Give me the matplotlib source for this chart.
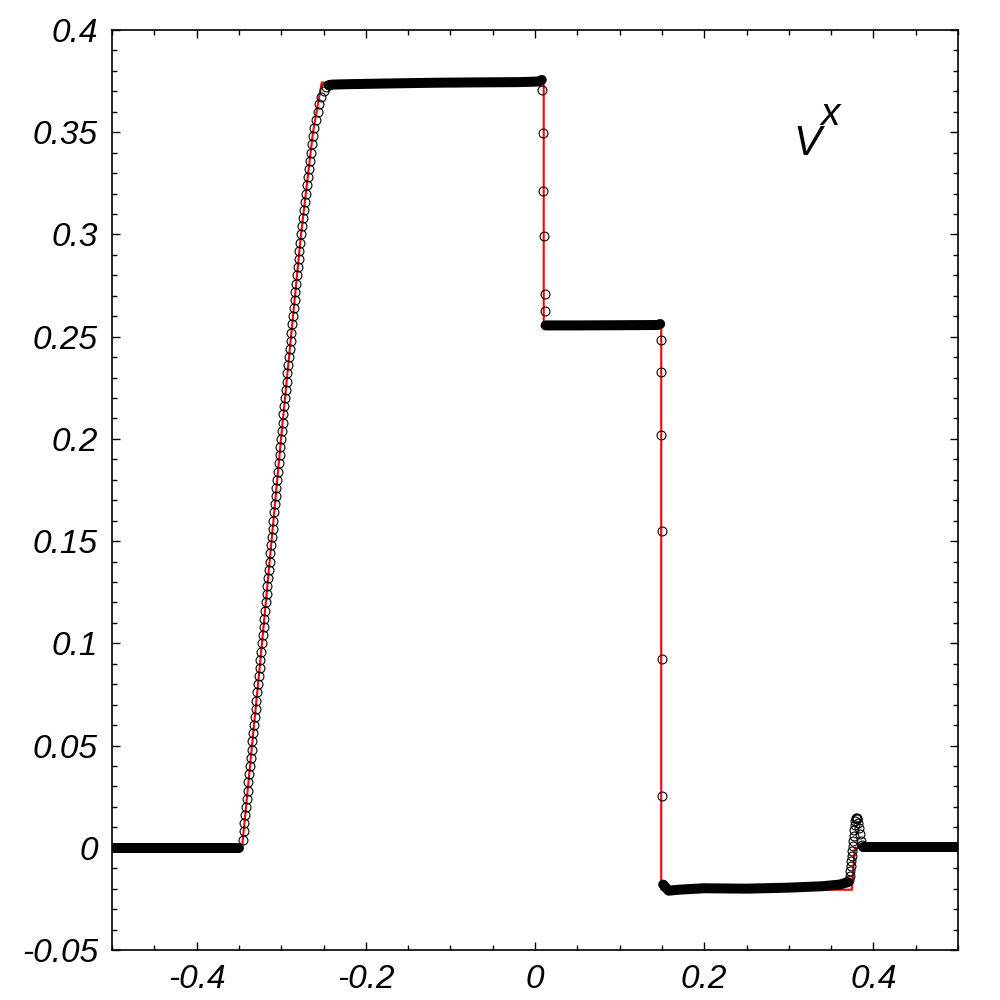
import matplotlib
matplotlib.use("Agg")
import matplotlib.pyplot as plt
from matplotlib.ticker import MultipleLocator, FuncFormatter

plt.rcParams["axes.unicode_minus"] = False

# ── exact solution (red line) ───────────────────────────────────────────────
exact_x = [-0.5, -0.3463, -0.3227, -0.3002, -0.2766, -0.2624, -0.2521,
           0.0103, 0.0103, 0.1492, 0.1492, 0.3745, 0.3780, 0.5]
exact_y = [0.0, 0.0, 0.1, 0.2, 0.3, 0.35, 0.3743,
           0.3743, 0.2555, 0.2555, -0.0205, -0.0205, 0.0, 0.0]

# ── numerical solution: dense plateaus (circles merge into a band) ──────────
band_left_x = [-0.5, -0.3495]
band_left_y = [0.0, 0.0]
band_top_x = [-0.2440, -0.2400, -0.2200, -0.1800, -0.1200, -0.0600, -0.0200, 0.0050, 0.0080]
band_top_y = [0.3730, 0.3733, 0.3735, 0.3738, 0.3742, 0.3744, 0.3745, 0.3748, 0.3756]
band_mid_x = [0.0125, 0.0500, 0.1000, 0.1450, 0.1480]
band_mid_y = [0.2555, 0.2555, 0.2556, 0.2557, 0.2562]
band_low_x = [0.1515, 0.1580, 0.1700, 0.2000, 0.2500, 0.3000, 0.3400, 0.3600, 0.3700]
band_low_y = [-0.0180, -0.0210, -0.0205, -0.0198, -0.0200, -0.0195, -0.0188, -0.0180, -0.0168]
band_right_x = [0.3875, 0.5]
band_right_y = [0.0003, 0.0003]

# ── numerical solution: resolved cells ──────────────────────────────────────
rare_x = [-0.3454, -0.3444, -0.3435, -0.3425, -0.3416, -0.3406, -0.3397, -0.3387, -0.3378, -0.3369,
          -0.3359, -0.3350, -0.3340, -0.3331, -0.3321, -0.3312, -0.3303, -0.3293, -0.3284, -0.3274,
          -0.3265, -0.3255, -0.3246, -0.3236, -0.3227, -0.3218, -0.3209, -0.3200, -0.3191, -0.3182,
          -0.3173, -0.3164, -0.3155, -0.3146, -0.3137, -0.3128, -0.3119, -0.3110, -0.3101, -0.3092,
          -0.3083, -0.3074, -0.3065, -0.3056, -0.3047, -0.3038, -0.3029, -0.3020, -0.3011, -0.3002,
          -0.2993, -0.2983, -0.2974, -0.2964, -0.2955, -0.2945, -0.2936, -0.2926, -0.2917, -0.2907,
          -0.2898, -0.2889, -0.2879, -0.2870, -0.2860, -0.2851, -0.2841, -0.2832, -0.2822, -0.2813,
          -0.2804, -0.2794, -0.2785, -0.2775, -0.2766, -0.2755, -0.2743, -0.2732, -0.2721, -0.2709,
          -0.2698, -0.2687, -0.2675, -0.2664, -0.2652, -0.2638, -0.2624, -0.2608, -0.2590, -0.2570,
          -0.2548, -0.2525, -0.2495, -0.2465, -0.2440]
rare_y = [0.004, 0.008, 0.012, 0.016, 0.020, 0.024, 0.028, 0.032, 0.036, 0.040,
          0.044, 0.048, 0.052, 0.056, 0.060, 0.064, 0.068, 0.072, 0.076, 0.080,
          0.084, 0.088, 0.092, 0.096, 0.100, 0.104, 0.108, 0.112, 0.116, 0.120,
          0.124, 0.128, 0.132, 0.136, 0.140, 0.144, 0.148, 0.152, 0.156, 0.160,
          0.164, 0.168, 0.172, 0.176, 0.180, 0.184, 0.188, 0.192, 0.196, 0.200,
          0.204, 0.208, 0.212, 0.216, 0.220, 0.224, 0.228, 0.232, 0.236, 0.240,
          0.244, 0.248, 0.252, 0.256, 0.260, 0.264, 0.268, 0.272, 0.276, 0.280,
          0.284, 0.288, 0.292, 0.296, 0.300, 0.304, 0.308, 0.312, 0.316, 0.320,
          0.324, 0.328, 0.332, 0.336, 0.340, 0.344, 0.348, 0.352, 0.356, 0.360,
          0.364, 0.367, 0.370, 0.372, 0.373]

shock1_x = [0.0086, 0.0091, 0.0098, 0.0106, 0.0118, 0.0122]
shock1_y = [0.3708, 0.3496, 0.3211, 0.2991, 0.2709, 0.2624]
shock2_x = [0.1488, 0.1490, 0.1493, 0.1496, 0.1499, 0.1503]
shock2_y = [0.2485, 0.2326, 0.2018, 0.1551, 0.0925, 0.0254]
contact_x = [0.3712, 0.3718, 0.3724, 0.3730, 0.3736, 0.3742, 0.3748, 0.3754, 0.3760, 0.3766, 0.3772,
             0.3778, 0.3786, 0.3794, 0.3802, 0.3810, 0.3818, 0.3826, 0.3836, 0.3848, 0.3862]
contact_y = [-0.0160, -0.0140, -0.0115, -0.0090, -0.0065, -0.0040, -0.0015, 0.0010, 0.0035, 0.0060, 0.0085,
             0.0110, 0.0132, 0.0145, 0.0148, 0.0140, 0.0120, 0.0095, 0.0065, 0.0035, 0.0012]

x_major = [-0.4, -0.2, 0.0, 0.2, 0.4]
y_major = [-0.05, 0.0, 0.05, 0.1, 0.15, 0.2, 0.25, 0.3, 0.35, 0.4]

# ── figure ──────────────────────────────────────────────────────────────────
fig = plt.figure(figsize=(10, 10), dpi=100)
ax = fig.add_axes([0.112, 0.05, 0.846, 0.92])

ax.plot(exact_x, exact_y, color="red", lw=1.5, zorder=2)

for bx, by in [(band_left_x, band_left_y), (band_top_x, band_top_y), (band_mid_x, band_mid_y),
               (band_low_x, band_low_y), (band_right_x, band_right_y)]:
    ax.plot(bx, by, color="black", lw=7.2, solid_capstyle="round", zorder=3)

circ = dict(ls="none", marker="o", ms=6.4, mfc="none", mec="black", mew=0.8, zorder=4)
for px, py in [(rare_x, rare_y), (shock1_x, shock1_y), (shock2_x, shock2_y), (contact_x, contact_y)]:
    ax.plot(px, py, **circ)

ax.set_xlim(-0.5, 0.5)
ax.set_ylim(-0.05, 0.4)
ax.set_xticks(x_major)
ax.set_yticks(y_major)
ax.xaxis.set_minor_locator(MultipleLocator(0.05))
ax.yaxis.set_minor_locator(MultipleLocator(0.01))
fmt = FuncFormatter(lambda v, p: "%g" % round(v, 3))
ax.xaxis.set_major_formatter(fmt)
ax.yaxis.set_major_formatter(fmt)

ax.tick_params(which="both", direction="in", top=True, right=True, width=1.0)
ax.tick_params(which="major", length=6, pad=10)
ax.tick_params(which="minor", length=3.5)
for lab in ax.get_xticklabels() + ax.get_yticklabels():
    lab.set_fontfamily("Liberation Sans")
    lab.set_fontstyle("italic")
    lab.set_fontsize(24)
for sp in ax.spines.values():
    sp.set_linewidth(1.2)

ax.text(0.305, 0.339, "V", fontsize=30, fontstyle="italic", family="Liberation Sans",
        ha="left", va="baseline")
ax.text(0.337, 0.3535, "x", fontsize=28, fontstyle="italic", family="Liberation Sans",
        ha="left", va="baseline")

fig.savefig("out.png", dpi=100)
